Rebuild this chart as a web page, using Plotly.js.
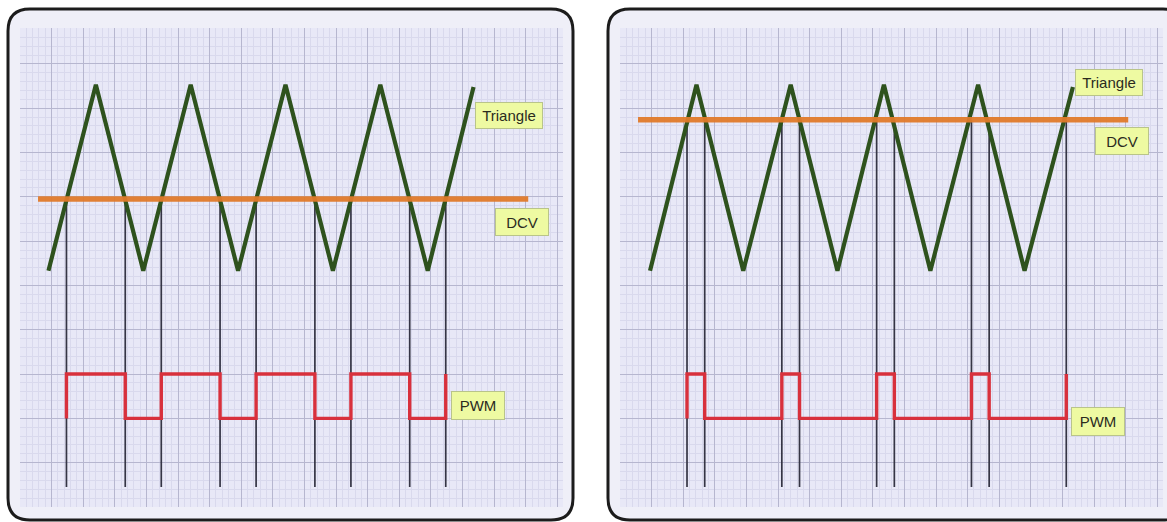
<!DOCTYPE html>
<html>
<head>
<meta charset="utf-8">
<script src="https://cdn.plot.ly/plotly-3.0.1.min.js"></script>
<style>
html,body{margin:0;padding:0;background:#fff;}
#chart{width:1167px;height:522px;}
</style>
</head>
<body>
<div id="chart"></div>
<script>
// ---- data (time in grid divisions, voltage in grid divisions) ----
const triangleTimeLeft  = [0.9, 2.4, 3.9, 5.4, 6.9, 8.4, 9.9, 11.4, 12.9, 14.35];
const triangleVoltLeft  = [5.33, 9.53, 5.33, 9.53, 5.33, 9.53, 5.33, 9.53, 5.33, 9.48];
const triangleTimeRight = [0.95, 2.42, 3.9, 5.4, 6.88, 8.35, 9.82, 11.33, 12.8, 14.33];
const triangleVoltRight = [5.33, 9.53, 5.33, 9.53, 5.33, 9.53, 5.33, 9.53, 5.33, 9.48];

const dcvSpan = [0.57, 16.08];
const dcvLeft = 6.95;
const dcvRight = 8.74;

const crossingsLeft  = [1.47, 3.33, 4.47, 6.33, 7.47, 9.33, 10.47, 12.33, 13.47];
const crossingsRight = [2.12, 2.68, 5.12, 5.68, 8.12, 8.68, 11.12, 11.68, 14.12];
const markerBottom = 0.45;

const pwmHigh = 3.0;
const pwmLow = 2.0;
// PWM levels after each crossing (high while triangle is above DCV)
const pwmLevelsLeft  = [pwmHigh, pwmLow, pwmHigh, pwmLow, pwmHigh, pwmLow, pwmHigh, pwmLow, pwmHigh];
const pwmLevelsRight = [pwmHigh, pwmLow, pwmHigh, pwmLow, pwmHigh, pwmLow, pwmHigh, pwmLow, pwmHigh];

const labelTexts = ["Triangle", "DCV", "PWM"];
const labelPosLeft  = [[15.47, 8.83], [15.89, 6.43], [14.49, 2.30]];
const labelPosRight = [[15.47, 9.59], [15.89, 8.26], [15.13, 1.92]];
const labelSizes = [[64, 23], [50, 24], [50, 25]];

// ---- styling ----
const W = 1167, H = 522;
const C_TRI = '#2e521d', C_DCV = '#e07a2a', C_PWM = '#d8303c', C_MARK = '#353545';
const GRID_MAJOR = '#b6b6cf', GRID_MINOR = '#d9d9ed', GRID_BG = '#e8e8f7', PANEL_BG = '#efeff8';

function pwmTrace(cross, levels) {
  const xs = [cross[0]], ys = [pwmLow];
  for (let i = 0; i < cross.length; i++) { xs.push(cross[i]); ys.push(levels[i]); }
  return xs.map((x, i) => [x, ys[i]]);
}
function markerLines(cross, dcv) {
  const xs = [], ys = [];
  cross.forEach(t => { xs.push(t, t, null); ys.push(dcv, markerBottom, null); });
  return [xs, ys];
}

const traces = [];
function addPanel(xa, ya, triT, triV, dcv, cross, levels) {
  const ml = markerLines(cross, dcv);
  traces.push({x: ml[0], y: ml[1], xaxis: xa, yaxis: ya, mode: 'lines',
    line: {color: C_MARK, width: 1.7}, hoverinfo: 'skip'});
  const p = pwmTrace(cross, levels);
  traces.push({x: p.map(d => d[0]), y: p.map(d => d[1]), xaxis: xa, yaxis: ya, mode: 'lines',
    line: {color: C_PWM, width: 3.4, shape: 'hv'}, hoverinfo: 'skip'});
  traces.push({x: triT, y: triV, xaxis: xa, yaxis: ya, mode: 'lines',
    line: {color: C_TRI, width: 4.2}, hoverinfo: 'skip'});
  traces.push({x: dcvSpan, y: [dcv, dcv], xaxis: xa, yaxis: ya, mode: 'lines',
    line: {color: C_DCV, width: 5.5}, opacity: 0.95, hoverinfo: 'skip'});
}
addPanel('x', 'y', triangleTimeLeft, triangleVoltLeft, dcvLeft, crossingsLeft, pwmLevelsLeft);
addPanel('x2', 'y2', triangleTimeRight, triangleVoltRight, dcvRight, crossingsRight, pwmLevelsRight);

function annots(xr, yr, pos) {
  return labelTexts.map((t, i) => ({
    xref: xr, yref: yr, x: pos[i][0], y: pos[i][1], text: t, showarrow: false,
    font: {family: 'Liberation Sans Narrow, Liberation Sans, Arial', size: 15, color: '#2b2b1e'},
    bgcolor: '#eefaa2', bordercolor: '#b9c48a', borderwidth: 1,
    width: labelSizes[i][0], height: labelSizes[i][1], xanchor: 'center', yanchor: 'middle'
  }));
}

function roundRect(x0, y0, x1, y1, r) {
  const X = v => (v / W).toFixed(5), Y = v => (1 - v / H).toFixed(5);
  return `M${X(x0 + r)},${Y(y0)} L${X(x1 - r)},${Y(y0)} Q${X(x1)},${Y(y0)} ${X(x1)},${Y(y0 + r)} ` +
    `L${X(x1)},${Y(y1 - r)} Q${X(x1)},${Y(y1)} ${X(x1 - r)},${Y(y1)} L${X(x0 + r)},${Y(y1)} ` +
    `Q${X(x0)},${Y(y1)} ${X(x0)},${Y(y1 - r)} L${X(x0)},${Y(y0 + r)} Q${X(x0)},${Y(y0)} ${X(x0 + r)},${Y(y0)} Z`;
}
function rectPx(x0, y0, x1, y1, color) {
  return {type: 'rect', xref: 'paper', yref: 'paper', x0: x0 / W, x1: x1 / W, y0: 1 - y1 / H, y1: 1 - y0 / H,
    fillcolor: color, line: {width: 0}, layer: 'below'};
}

const shapes = [
  {type: 'path', xref: 'paper', yref: 'paper', path: roundRect(8, 9, 573, 520, 22),
    fillcolor: PANEL_BG, line: {color: '#1c1c1c', width: 3}, layer: 'below'},
  {type: 'path', xref: 'paper', yref: 'paper', path: roundRect(608, 9, 1185, 520, 22),
    fillcolor: PANEL_BG, line: {color: '#1c1c1c', width: 3}, layer: 'below'},
  rectPx(20, 28, 563, 507, GRID_BG),
  rectPx(620, 28, 1163, 507, GRID_BG)
];

function xAxis(d) {
  return {domain: d, range: [0, 17.18], dtick: 1, tick0: 0, showgrid: true, gridcolor: GRID_MAJOR, gridwidth: 1,
    minor: {dtick: 0.2, showgrid: true, gridcolor: GRID_MINOR, gridwidth: 1},
    showticklabels: false, ticks: '', zeroline: false, showline: false, fixedrange: true};
}
function yAxis(d) {
  return {domain: d, range: [0, 10.81], dtick: 1, tick0: 0, showgrid: true, gridcolor: GRID_MAJOR, gridwidth: 1,
    minor: {dtick: 0.2, showgrid: true, gridcolor: GRID_MINOR, gridwidth: 1},
    showticklabels: false, ticks: '', zeroline: false, showline: false, fixedrange: true};
}
const yd = [15 / H, 494 / H];
const layout = {
  width: W, height: H, margin: {l: 0, r: 0, t: 0, b: 0},
  paper_bgcolor: '#ffffff', plot_bgcolor: 'rgba(0,0,0,0)', showlegend: false,
  xaxis: Object.assign(xAxis([20 / W, 563 / W]), {anchor: 'y'}),
  yaxis: Object.assign(yAxis(yd), {anchor: 'x'}),
  xaxis2: Object.assign(xAxis([620 / W, 1163 / W]), {anchor: 'y2'}),
  yaxis2: Object.assign(yAxis(yd), {anchor: 'x2'}),
  shapes: shapes,
  annotations: annots('x', 'y', labelPosLeft).concat(annots('x2', 'y2', labelPosRight))
};
Plotly.newPlot('chart', traces, layout, {displayModeBar: false, staticPlot: true});
</script>
</body>
</html>
